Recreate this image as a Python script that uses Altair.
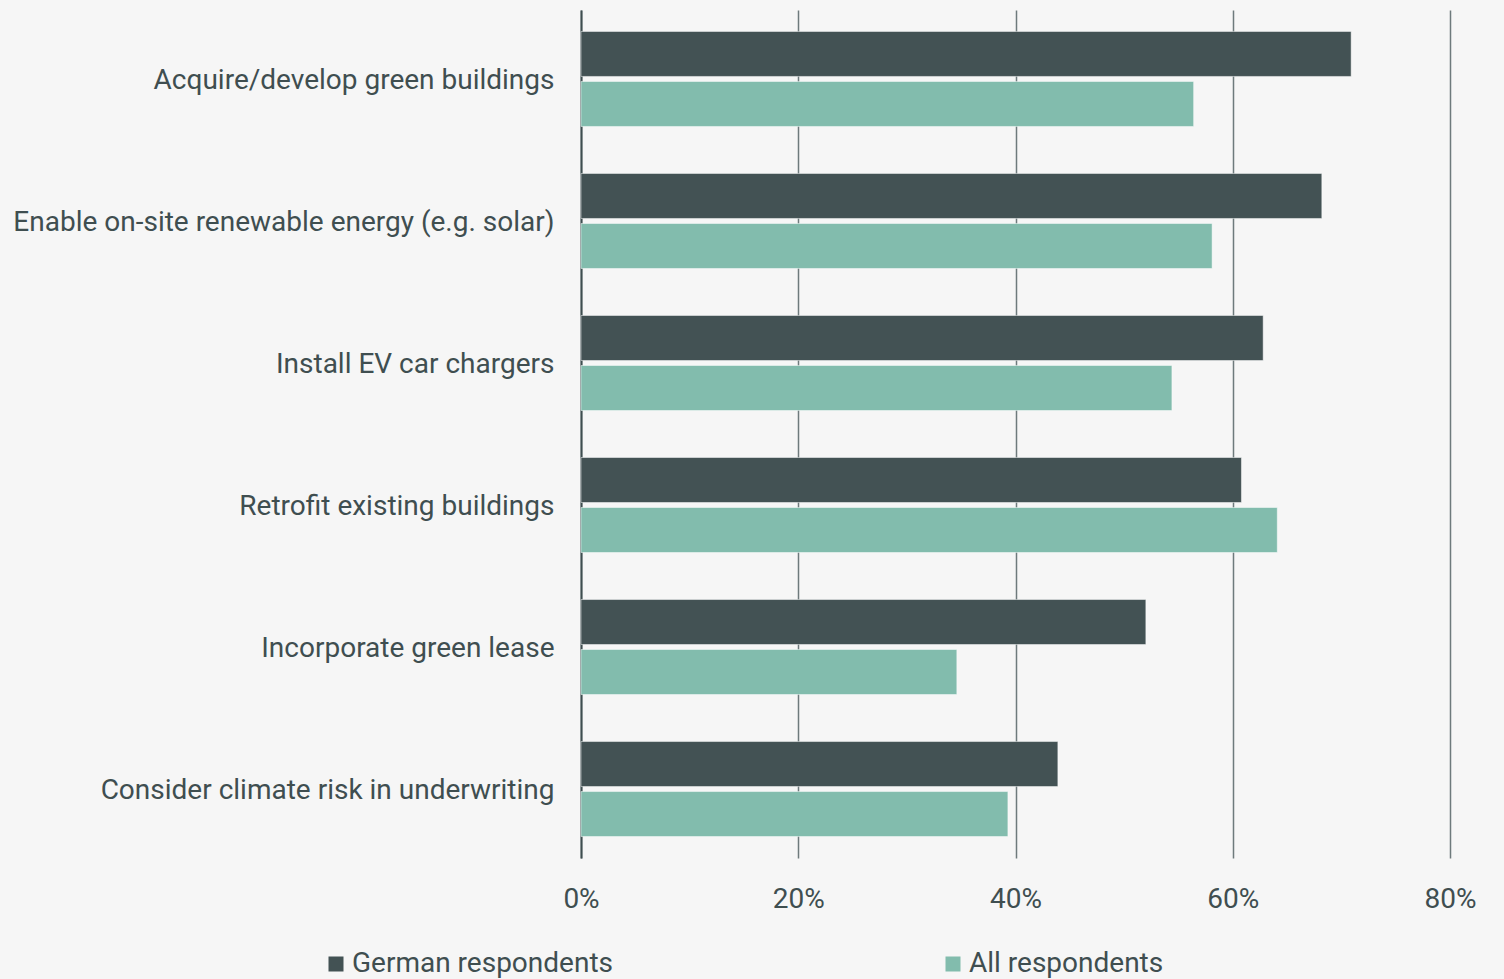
import altair as alt
import pandas as pd

categories = [
    "Acquire/develop green buildings",
    "Enable on-site renewable energy (e.g. solar)",
    "Install EV car chargers",
    "Retrofit existing buildings",
    "Incorporate green lease",
    "Consider climate risk in underwriting",
]
german = [70.9, 68.2, 62.8, 60.8, 52.0, 43.9]
all_resp = [56.4, 58.1, 54.4, 64.1, 34.6, 39.3]
series = ["German respondents", "All respondents"]
colors = ["#435254", "#82bcad"]

rows = []
for c, g, a in zip(categories, german, all_resp):
    rows.append({"category": c, "series": series[0], "value": g / 100})
    rows.append({"category": c, "series": series[1], "value": a / 100})
df = pd.DataFrame(rows)

FONT = "Roboto"
TXT = "#3f4e50"
FS = 28

chart = alt.Chart(df).mark_bar(stroke="#ffffff", strokeWidth=0.8, strokeOpacity=0.6).encode(
    x=alt.X("value:Q",
            scale=alt.Scale(domain=[0, 0.8], nice=False, zero=True),
            axis=alt.Axis(format=".0%", values=[0, 0.2, 0.4, 0.6, 0.8], title=None,
                          grid=True, gridColor="#6e7a7c", gridWidth=1.5,
                          domain=False, ticks=False, labelPadding=27, labelFlush=False,
                          labelFont=FONT, labelFontSize=FS, labelColor=TXT)),
    y=alt.Y("category:N", sort=categories,
            scale=alt.Scale(paddingInner=0.331, paddingOuter=0.151),
            axis=alt.Axis(title=None, ticks=False, domain=True, domainColor="#3f4e50",
                          domainWidth=2, labelPadding=27, labelOffset=2, labelFont=FONT,
                          labelFontSize=FS, labelColor=TXT, labelLimit=700)),
    yOffset=alt.YOffset("series:N", sort=series,
                        scale=alt.Scale(paddingInner=0.1, paddingOuter=0)),
    color=alt.Color("series:N", sort=series,
                    scale=alt.Scale(domain=series, range=colors),
                    legend=alt.Legend(title=None, orient="none", direction="horizontal",
                                      legendX=-259, legendY=940,
                                      symbolType="square", symbolSize=225,
                                      symbolStrokeWidth=0, labelOffset=2,
                                      columnPadding=326,
                                      labelFont=FONT, labelFontSize=FS,
                                      labelColor=TXT, labelLimit=600)),
).properties(
    width=869, height=848,
    autosize=alt.AutoSizeParams(type="none"),
    padding={"left": 581, "top": 10, "right": 54, "bottom": 121},
    background="#f6f6f6",
).configure_view(stroke=None)

chart.save("out.html", embed_options={"renderer": "svg", "actions": False})
